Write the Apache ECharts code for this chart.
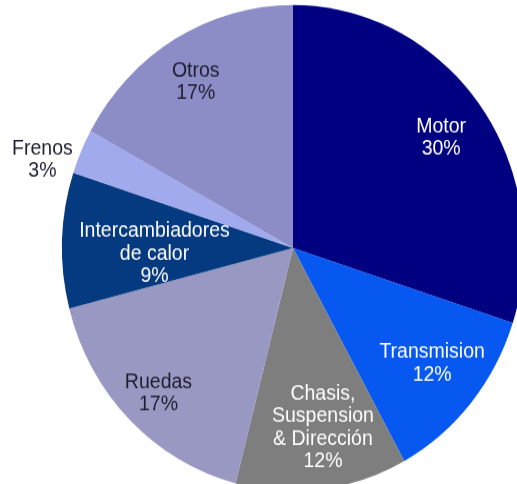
<!DOCTYPE html>
<html>
<head>
<meta charset="utf-8">
<script src="https://cdn.jsdelivr.net/npm/echarts@6/dist/echarts.min.js"></script>
<style>
  html, body { margin: 0; padding: 0; background: #ffffff; overflow: hidden; }
  #wrap { width: 517px; height: 484px; overflow: hidden; }
  /* the pie is drawn slightly taller than wide */
  #chart { width: 517px; height: 460px; transform: scaleY(1.052); transform-origin: 0 0; }
</style>
</head>
<body>
<div id="wrap"><div id="chart"></div></div>
<script>
// Share of components (percent), clockwise from 12 o'clock
const categories = ['Motor', 'Transmision', 'Chasis,\nSuspension\n& Dirección', 'Ruedas', 'Intercambiadores\nde calor', 'Frenos', 'Otros'];
const shares = [30, 12, 12, 17, 9, 3, 17];
const sliceColors = ['#000080', '#0758F0', '#7E7E7E', '#9898C3', '#063A80', '#A0AAEC', '#8C8CC6'];
const labelColors = ['#ffffff', '#ffffff', '#ffffff', '#1e1e30', '#ffffff', '#1e1e30', '#1e1e30'];

// which labels sit in which ring
const innerRing = ['Intercambiadores\nde calor'];
const outerRing = ['Frenos'];

// small text nudges [dx, dy] inside each slice
const labelNudge = {
  'Motor': [0, 3],
  'Transmision': [-2, -7],
  'Chasis,\nSuspension\n& Dirección': [7, -11],
  'Ruedas': [-5, 9],
  'Intercambiadores\nde calor': [3, 10],
  'Frenos': [-4, 23],
  'Otros': [-4, 0]
};

const CX = 293, CY = 235.7, R = 231;
const FONT = { fontFamily: 'Liberation Sans, Arial, sans-serif', fontSize: 19.5, lineHeight: 21.5 };

function labelData(showFn) {
  return categories.map((name, i) => ({
    name: name,
    value: shares[i],
    itemStyle: { color: 'transparent' },
    label: {
      show: showFn(name),
      color: labelColors[i],
      offset: labelNudge[name] || [0, 0]
    }
  }));
}

function labelSeries(radius, showFn) {
  return {
    type: 'pie',
    silent: true,
    center: [CX, CY],
    radius: radius,
    startAngle: 90,
    clockwise: true,
    animation: false,
    labelLine: { show: false },
    label: Object.assign({ position: 'inside', formatter: p => p.name + '\n' + p.value + '%' }, FONT),
    emphasis: { disabled: true },
    data: labelData(showFn)
  };
}

const chart = echarts.init(document.getElementById('chart'), null, { renderer: 'canvas' });
chart.setOption({
  backgroundColor: '#ffffff',
  animation: false,
  series: [
    {
      type: 'pie',
      center: [CX, CY],
      radius: [0, R],
      startAngle: 90,
      clockwise: true,
      silent: true,
      label: { show: false },
      labelLine: { show: false },
      itemStyle: { borderWidth: 0 },
      data: categories.map((name, i) => ({ name: name, value: shares[i], itemStyle: { color: sliceColors[i] } }))
    },
    labelSeries([R * 0.56, R], n => !innerRing.includes(n) && !outerRing.includes(n)),
    labelSeries([R * 0.2, R], n => innerRing.includes(n)),
    labelSeries([R, R * 1.3], n => outerRing.includes(n))
  ]
});
</script>
</body>
</html>
